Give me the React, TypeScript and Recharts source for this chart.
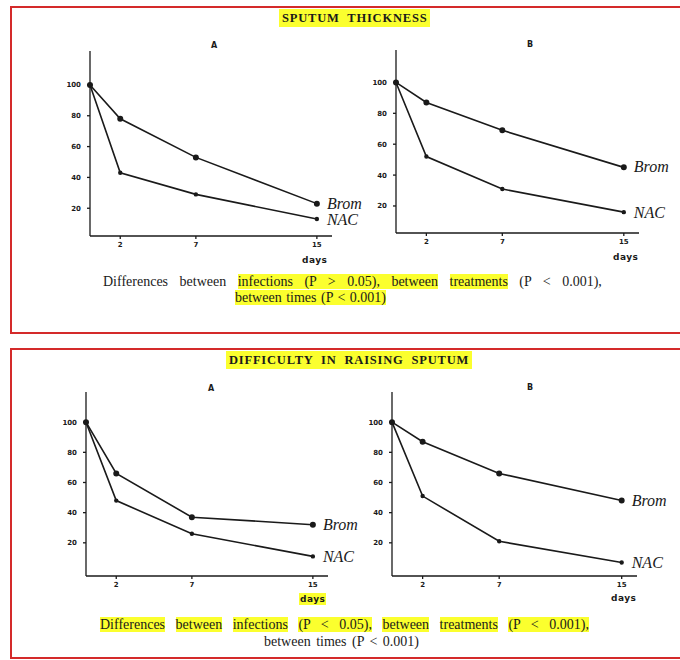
import React from 'react';
import { LineChart, Line, XAxis, YAxis } from 'recharts';

// ─── Data ────────────────────────────────────────────────────────────────────
const DAYS = [0, 2, 7, 15];
const X_TICKS = [2, 7, 15];
const Y_TICKS = [20, 40, 60, 80, 100];

const THICK_A_BROM = [100, 78, 53, 23];
const THICK_A_NAC = [100, 43, 29, 13];
const THICK_B_BROM = [100, 87, 69, 45];
const THICK_B_NAC = [100, 52, 31, 16];

const RAISE_A_BROM = [100, 66, 37, 32];
const RAISE_A_NAC = [100, 48, 26, 11];
const RAISE_B_BROM = [100, 87, 66, 48];
const RAISE_B_NAC = [100, 51, 21, 7];

const SERIES_LABELS = { brom: 'Brom', nac: 'NAC' };
const PANEL_TITLES = ['A', 'B'];

const RED = '#d42a2a';
const HILITE = '#fbff2e';
const INK = '#1a1a1a';
const SERIF = '"Liberation Serif", "DejaVu Serif", serif';
const TICK_FONT = { fontSize: 7, fontWeight: 700, fill: INK, fontFamily: '"DejaVu Sans", sans-serif' };

function toRows(brom: number[], nac: number[]) {
  return DAYS.map((d, i) => ({ day: d, brom: brom[i], nac: nac[i] }));
}

// Handwritten-looking label next to the last point of a series
function endLabel(text: string, dy: number) {
  return (props: any) => {
    const { x, y, index } = props;
    if (index !== DAYS.length - 1) return null;
    return (
      <text
        key={`lab-${text}`}
        x={x + 10}
        y={y + dy}
        fontFamily={SERIF}
        fontStyle="italic"
        fontSize={16}
        fill={INK}
      >
        {text}
      </text>
    );
  };
}

interface PanelProps {
  brom: number[];
  nac: number[];
  axisX: number;      // page x of y-axis
  plotRight: number;  // page x of x-axis end
  plotTop: number;
  plotBottom: number;
  yDomain: [number, number];
}

function Panel({ brom, nac, axisX, plotRight, plotTop, plotBottom, yDomain }: PanelProps) {
  const yAxisW = 30;
  const xAxisH = 20;
  const mTop = 4;
  const mRight = 60;
  const width = yAxisW + (plotRight - axisX) + mRight;
  const height = mTop + (plotBottom - plotTop) + xAxisH;
  return (
    <div style={{ position: 'absolute', left: axisX - yAxisW, top: plotTop - mTop }}>
      <LineChart
        width={width}
        height={height}
        data={toRows(brom, nac)}
        margin={{ top: mTop, right: mRight, bottom: 0, left: 0 }}
      >
        <XAxis
          type="number"
          dataKey="day"
          domain={[0, 16]}
          ticks={X_TICKS}
          height={xAxisH}
          tickSize={3}
          tickMargin={3}
          tick={TICK_FONT}
          stroke={INK}
          strokeWidth={1.3}
        />
        <YAxis
          type="number"
          domain={yDomain}
          ticks={Y_TICKS}
          width={yAxisW}
          tickSize={3}
          tickMargin={6}
          tick={TICK_FONT}
          stroke={INK}
          strokeWidth={1.3}
          allowDataOverflow
        />
        <Line
          dataKey="brom"
          stroke={INK}
          strokeWidth={1.6}
          dot={{ r: 2.2, fill: INK, stroke: INK }}
          isAnimationActive={false}
          label={endLabel(SERIES_LABELS.brom, 5)}
        />
        <Line
          dataKey="nac"
          stroke={INK}
          strokeWidth={1.6}
          dot={{ r: 1.4, fill: INK, stroke: INK }}
          isAnimationActive={false}
          label={endLabel(SERIES_LABELS.nac, 6)}
        />
      </LineChart>
    </div>
  );
}

function Abs({ x, y, children, style }: { x: number; y: number; children: React.ReactNode; style?: React.CSSProperties }) {
  return (
    <div style={{ position: 'absolute', left: x, top: y, whiteSpace: 'nowrap', lineHeight: 1, ...style }}>
      {children}
    </div>
  );
}

const hl: React.CSSProperties = { background: HILITE };
const titleStyle: React.CSSProperties = {
  fontFamily: SERIF, fontWeight: 700, fontSize: 12.5, letterSpacing: 0.8, wordSpacing: 4,
  background: HILITE, padding: '2px 3px', color: INK,
};
const capStyle: React.CSSProperties = { fontFamily: SERIF, fontSize: 14, color: INK };
const panelTitle: React.CSSProperties = { fontFamily: '"DejaVu Sans", sans-serif', fontWeight: 700, fontSize: 8, color: INK };
const daysStyle: React.CSSProperties = { fontFamily: '"DejaVu Sans", sans-serif', fontWeight: 700, fontSize: 9, color: INK, letterSpacing: 0.5 };

export default function App() {
  return (
    <div style={{ position: 'absolute', left: 0, top: 0, width: 680, height: 660, background: '#fff', overflow: 'hidden' }}>
      {/* Red frames */}
      <div style={{ position: 'absolute', left: 10, top: 6, width: 680, height: 324, border: `2px solid ${RED}` }} />
      <div style={{ position: 'absolute', left: 10, top: 348, width: 680, height: 307, border: `2px solid ${RED}` }} />

      {/* Section titles */}
      <Abs x={279} y={9}><span style={titleStyle}>SPUTUM THICKNESS</span></Abs>
      <Abs x={226} y={351}><span style={titleStyle}>DIFFICULTY IN RAISING SPUTUM</span></Abs>

      {/* Top row: sputum thickness */}
      <Abs x={211} y={42} style={panelTitle}>{PANEL_TITLES[0]}</Abs>
      <Abs x={527} y={41} style={panelTitle}>{PANEL_TITLES[1]}</Abs>
      <Panel brom={THICK_A_BROM} nac={THICK_A_NAC} axisX={90} plotRight={332} plotTop={51} plotBottom={236} yDomain={[2, 122]} />
      <Panel brom={THICK_B_BROM} nac={THICK_B_NAC} axisX={396} plotRight={639} plotTop={50} plotBottom={233} yDomain={[2.5, 121]} />
      <Abs x={302} y={256} style={daysStyle}>days</Abs>
      <Abs x={613} y={253} style={daysStyle}>days</Abs>

      <Abs x={103} y={275} style={{ ...capStyle, wordSpacing: 8 }}>
        Differences between <span style={hl}>infections (P &gt; 0.05), between</span> <span style={hl}>treatments</span> (P &lt; 0.001),
      </Abs>
      <Abs x={235} y={291} style={{ ...capStyle, wordSpacing: 1 }}>
        <span style={hl}>between times (P &lt; 0.001)</span>
      </Abs>

      {/* Bottom row: difficulty in raising sputum */}
      <Abs x={208} y={385} style={panelTitle}>{PANEL_TITLES[0]}</Abs>
      <Abs x={527} y={384} style={panelTitle}>{PANEL_TITLES[1]}</Abs>
      <Panel brom={RAISE_A_BROM} nac={RAISE_A_NAC} axisX={86} plotRight={328} plotTop={392} plotBottom={576} yDomain={[-2, 120]} />
      <Panel brom={RAISE_B_BROM} nac={RAISE_B_NAC} axisX={392} plotRight={637} plotTop={392} plotBottom={576} yDomain={[-2, 120]} />
      <Abs x={299} y={595} style={daysStyle}><span style={{ background: HILITE, padding: '1px 1px' }}>days</span></Abs>
      <Abs x={611} y={594} style={daysStyle}>days</Abs>

      <Abs x={100} y={618} style={{ ...capStyle, wordSpacing: 7 }}>
        <span style={hl}>Differences</span> <span style={hl}>between</span> <span style={hl}>infections</span>{' '}
        <span style={hl}>(P &lt; 0.05),</span> <span style={hl}>between</span> <span style={hl}>treatments</span>{' '}
        <span style={hl}>(P &lt; 0.001),</span>
      </Abs>
      <Abs x={264} y={635} style={{ ...capStyle, wordSpacing: 2 }}>between times (P &lt; 0.001)</Abs>
    </div>
  );
}
